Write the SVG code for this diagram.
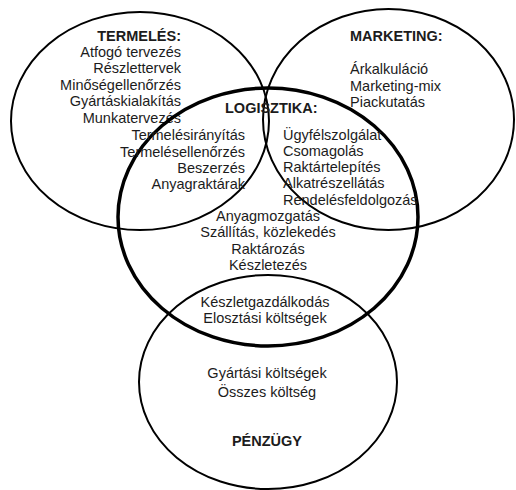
<svg xmlns="http://www.w3.org/2000/svg" width="516" height="490" viewBox="0 0 516 490">
  <style>
    .ring { fill: none; stroke: #000; stroke-width: 2; }
    .ring-main { fill: none; stroke: #000; stroke-width: 3.5; }
    text { font-family: "Liberation Sans", Arial, sans-serif; font-size: 14.5px; fill: #1c1c1c; }
    .head { font-weight: bold; }
    .end { text-anchor: end; }
    .mid { text-anchor: middle; }
  </style>
  <rect width="516" height="490" fill="#fff"/>

  <!-- Production -->
  <g id="termeles">
    <ellipse class="ring" cx="140" cy="121" rx="129" ry="109"/>
    <text class="head end" x="181" y="41">TERMELÉS:</text>
    <text class="end" x="181" y="57">Atfogó tervezés</text>
    <text class="end" x="181" y="73">Részlettervek</text>
    <text class="end" x="181" y="90">Minőségellenőrzés</text>
    <text class="end" x="181" y="106">Gyártáskialakítás</text>
    <text class="end" x="181" y="123">Munkatervezés</text>
  </g>

  <!-- Marketing -->
  <g id="marketing">
    <ellipse class="ring" cx="388.5" cy="119.5" rx="125.5" ry="110.5"/>
    <text class="head" x="350" y="41">MARKETING:</text>
    <text x="350" y="74">Árkalkuláció</text>
    <text x="350" y="91">Marketing-mix</text>
    <text x="350" y="107">Piackutatás</text>
  </g>

  <!-- Logistics -->
  <g id="logisztika">
    <ellipse class="ring-main" cx="268" cy="217" rx="150" ry="129"/>
    <text class="head" x="225" y="113">LOGISZTIKA:</text>
    <text class="end" x="245" y="140">Termelésirányítás</text>
    <text class="end" x="245" y="157">Termelésellenőrzés</text>
    <text class="end" x="245" y="173">Beszerzés</text>
    <text class="end" x="245" y="189">Anyagraktárak</text>
    <text x="283" y="140">Ügyfélszolgálat</text>
    <text x="283" y="156">Csomagolás</text>
    <text x="283" y="172">Raktártelepítés</text>
    <text x="283" y="188">Alkatrészellátás</text>
    <text x="283" y="205">Rendelésfeldolgozás</text>
    <text class="mid" x="268" y="221">Anyagmozgatás</text>
    <text class="mid" x="268" y="237">Szállítás, közlekedés</text>
    <text class="mid" x="268" y="254">Raktározás</text>
    <text class="mid" x="268" y="270">Készletezés</text>
    <text class="mid" x="265" y="307">Készletgazdálkodás</text>
    <text class="mid" x="265" y="323">Elosztási költségek</text>
  </g>

  <!-- Finance -->
  <g id="penzugy">
    <ellipse class="ring" cx="268" cy="382" rx="129" ry="107"/>
    <text class="mid" x="267" y="378">Gyártási költségek</text>
    <text class="mid" x="267" y="397">Összes költség</text>
    <text class="head mid" x="267" y="446">PÉNZÜGY</text>
  </g>

  <!-- no connectors: the overlap of the ellipses carries the relations -->
  <g id="connectors"/>
</svg>
